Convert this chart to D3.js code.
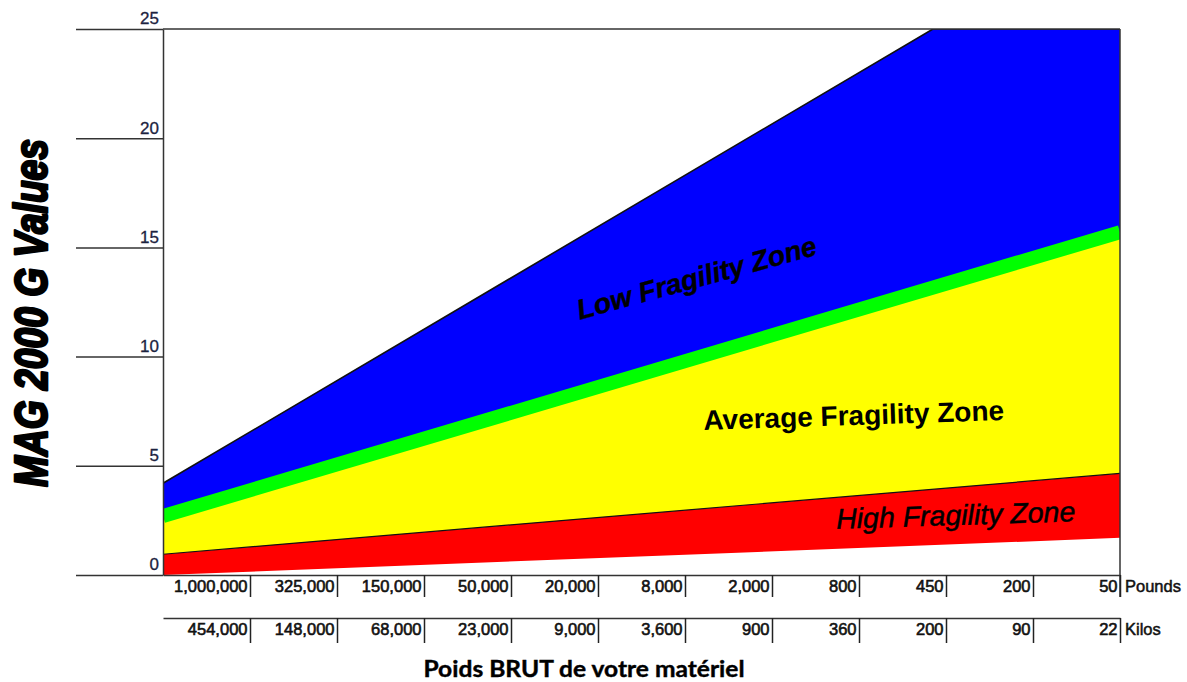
<!DOCTYPE html>
<html><head><meta charset="utf-8">
<script src="https://cdn.jsdelivr.net/npm/d3@7"></script>
<style>
html,body{margin:0;padding:0;background:#fff;}
svg{display:block;}
</style></head>
<body>
<svg id="chart" width="1187" height="682"></svg>
<script>
// ---- data ----
const yTicks = [0, 5, 10, 15, 20, 25];
const poundsLabels = ["1,000,000","325,000","150,000","50,000","20,000","8,000","2,000","800","450","200","50"];
const kilosLabels  = ["454,000","148,000","68,000","23,000","9,000","3,600","900","360","200","90","22"];
// zone boundaries as [column position, G value] (columns 0..11 across the weight axis)
const lowTop      = [[0, 4.2], [8.85, 25], [11, 25]];
const avgLine     = [[0, 2.7], [11, 15.7]];
const highTop     = [[0, 0.95], [11, 4.65]];
const highBottom  = [[0, 0], [11, 1.7]];
const zoneLabels  = ["Low Fragility Zone", "Average Fragility Zone", "High Fragility Zone"];

const svg = d3.select("#chart");
const pL = 163, pR = 1120, pT = 29, pB = 575;
const x = d3.scaleLinear().domain([0, 11]).range([pL, pR]);
const y = d3.scaleLinear().domain([0, 25]).range([pB, pT]);
const interp = (pts, c) => {
  for (let i = 0; i < pts.length - 1; i++) {
    const [c0, v0] = pts[i], [c1, v1] = pts[i+1];
    if (c >= c0 && c <= c1) return v0 + (v1 - v0) * (c - c0) / (c1 - c0);
  }
  return pts[pts.length-1][1];
};

svg.append("defs").append("clipPath").attr("id","plotclip")
  .append("rect").attr("x", pL).attr("y", pT).attr("width", pR-pL).attr("height", pB-pT);

const g = svg.append("g").attr("clip-path","url(#plotclip)");

function band(upper, lower) {
  const cols = Array.from(new Set([...upper.map(d=>d[0]), ...lower.map(d=>d[0])])).sort((a,b)=>a-b);
  return d3.area().x(c => x(c)).y0(c => y(interp(lower, c))).y1(c => y(interp(upper, c)))(cols);
}
g.append("path").attr("d", band(lowTop, avgLine)).attr("fill", "#0000ff");
g.append("path").attr("d", band(avgLine, highTop)).attr("fill", "#ffff00");
g.append("path").attr("d", band(highTop, highBottom)).attr("fill", "#ff0000");

const line = d3.line().x(d => x(d[0])).y(d => y(d[1]));
g.append("path").attr("d", line(avgLine)).attr("fill","none").attr("stroke","#00ff00").attr("stroke-width", 14);
g.append("path").attr("d", line(lowTop)).attr("fill","none").attr("stroke","#111").attr("stroke-width", 1.6);
g.append("path").attr("d", line(highTop)).attr("fill","none").attr("stroke","#111").attr("stroke-width", 1.2);

// ---- y axis ----
const yAxis = d3.axisLeft(y).tickValues(yTicks).tickSizeInner(pL - 76).tickSizeOuter(0);
const ya = svg.append("g").attr("transform", `translate(${pL},0)`).call(yAxis);
ya.select(".domain").attr("stroke","#333").attr("stroke-width",1.5);
ya.selectAll(".tick line").attr("stroke","#333").attr("stroke-width",1.5);
ya.selectAll(".tick text").attr("x", -4).attr("dy", "-0.3em")
  .attr("font-family","Liberation Sans, Arial, sans-serif").attr("font-size", 17)
  .attr("fill","#1c2340").attr("stroke","#1c2340").attr("stroke-width",0.3).attr("text-anchor","end");

// frame: top line and right line
svg.append("line").attr("x1", pL).attr("x2", pR).attr("y1", y(25)).attr("y2", y(25))
  .attr("stroke","#333").attr("stroke-width",1.5);
svg.append("line").attr("x1", pR).attr("x2", pR).attr("y1", y(25)).attr("y2", 597)
  .attr("stroke","#333").attr("stroke-width",1.5);

// ---- x axes (pounds / kilos) ----
const font = "Liberation Sans, Arial, sans-serif";
function weightAxis(yPos, labels, tickLen) {
  const ax = d3.axisBottom(x).tickValues(d3.range(1, 12)).tickSizeInner(tickLen).tickSizeOuter(0)
    .tickFormat(d => labels[d-1]);
  const a = svg.append("g").attr("transform", `translate(0,${yPos})`).call(ax);
  a.select(".domain").attr("stroke","#333").attr("stroke-width",1.5);
  a.selectAll(".tick line").attr("stroke","#222").attr("stroke-width",1.5);
  a.selectAll(".tick text").attr("text-anchor","end").attr("x", -3).attr("y", 17).attr("dy", 0)
    .attr("font-family", font).attr("font-size", 16.5).attr("fill","#111")
    .attr("stroke","#111").attr("stroke-width",0.6);
  return a;
}
weightAxis(pB, poundsLabels, 22);
weightAxis(618, kilosLabels, 25);

svg.append("text").attr("x", 1125).attr("y", 592).text("Pounds")
  .attr("font-family", font).attr("font-size", 16.5).attr("fill","#111").attr("stroke","#111").attr("stroke-width",0.5);
svg.append("text").attr("x", 1125).attr("y", 635).text("Kilos")
  .attr("font-family", font).attr("font-size", 16.5).attr("fill","#111").attr("stroke","#111").attr("stroke-width",0.5);

// ---- zone labels ----
svg.append("text").text(zoneLabels[0])
  .attr("transform","translate(699,287) rotate(-15.3)").attr("text-anchor","middle")
  .attr("font-family", font).attr("font-size", 28).attr("font-weight","bold").attr("font-style","italic")
  .attr("fill","#000").attr("stroke","#000").attr("stroke-width",0.4);
svg.append("text").text(zoneLabels[1])
  .attr("transform","translate(854,425) rotate(-1.9)").attr("text-anchor","middle")
  .attr("font-family", font).attr("font-size", 28).attr("font-weight","bold").attr("fill","#000");
svg.append("text").text(zoneLabels[2])
  .attr("transform","translate(956,525) rotate(-1.8)").attr("text-anchor","middle")
  .attr("font-family", font).attr("font-size", 28.5).attr("font-style","italic").attr("fill","#000")
  .attr("stroke","#000").attr("stroke-width",0.5);

// ---- axis titles ----
svg.append("text").text("MAG 2000 G Values")
  .attr("transform","translate(47,313) rotate(-90)").attr("text-anchor","middle")
  .attr("font-family", font).attr("font-size", 47).attr("font-weight","bold").attr("font-style","italic")
  .attr("textLength", 348).attr("lengthAdjust","spacingAndGlyphs")
  .attr("fill","#000").attr("stroke","#000").attr("stroke-width",2.6).attr("stroke-linejoin","round");

svg.append("text").attr("x", 584).attr("y", 677).attr("text-anchor","middle")
  .attr("font-family","Lato, 'Open Sans', sans-serif").attr("font-size", 22).attr("font-weight","bold")
  .attr("textLength", 321).attr("lengthAdjust","spacingAndGlyphs").attr("fill","#000")
  .attr("stroke","#000").attr("stroke-width",0.4)
  .text("Poids BRUT de votre matériel");
</script>
</body></html>
